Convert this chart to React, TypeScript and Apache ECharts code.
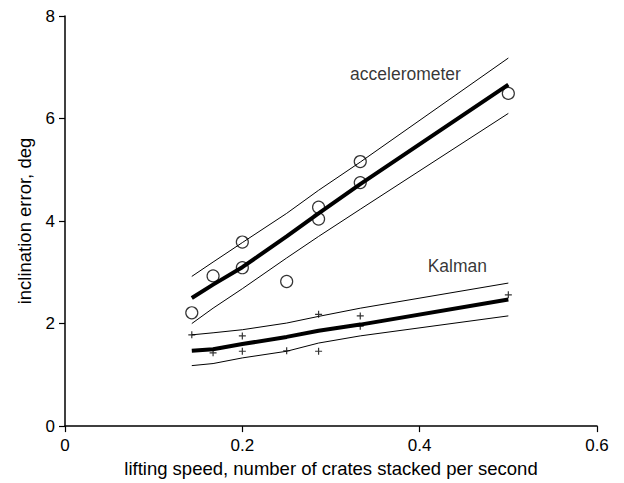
import React, { useEffect, useRef } from "react";
import * as echarts from "echarts";

// Measured lifting speeds (crates per second)
const accX = [0.143, 0.167, 0.2, 0.2, 0.25, 0.286, 0.286, 0.333, 0.333, 0.5];
const accY = [2.21, 2.93, 3.59, 3.09, 2.82, 4.27, 4.04, 5.16, 4.75, 6.49];

const kalX = [0.143, 0.167, 0.2, 0.2, 0.25, 0.286, 0.286, 0.333, 0.333, 0.5];
const kalY = [1.78, 1.43, 1.76, 1.46, 1.47, 2.18, 1.46, 2.15, 1.95, 2.56];

// Fit curves and bounds
const fitX = [0.143, 0.167, 0.2, 0.25, 0.286, 0.333, 0.5];
const accFit = [2.5, 2.76, 3.1, 3.7, 4.15, 4.72, 6.66];
const accUpper = [2.92, 3.2, 3.58, 4.15, 4.6, 5.15, 7.18];
const accLower = [2.0, 2.3, 2.68, 3.28, 3.7, 4.23, 6.1];
const kalFit = [1.47, 1.5, 1.6, 1.74, 1.86, 1.98, 2.47];
const kalUpper = [1.78, 1.82, 1.88, 2.01, 2.14, 2.3, 2.79];
const kalLower = [1.18, 1.22, 1.33, 1.46, 1.62, 1.76, 2.15];

const labels = [
  { name: "accelerometer", x: 0.384, y: 6.86 },
  { name: "Kalman", x: 0.4425, y: 3.12 },
];

const FONT = "Liberation Sans, Arial, Helvetica, sans-serif";

const zip = (xs: number[], ys: number[]) => xs.map((x, i) => [x, ys[i]]);

export default function App() {
  const ref = useRef<HTMLDivElement>(null);
  useEffect(() => {
    if (!ref.current) return;
    const chart = echarts.init(ref.current, null, { renderer: "svg" });
    const lineSeries = (ys: number[], w: number) => ({
      type: "line",
      data: zip(fitX, ys),
      showSymbol: false,
      symbol: "none",
      smooth: false,
      lineStyle: { color: "#000", width: w },
      z: 2,
    });
    chart.setOption({
      animation: false,
      backgroundColor: "#fff",
      grid: { left: 65, right: 27, top: 16, bottom: 49, containLabel: false },
      xAxis: {
        type: "value",
        min: 0,
        max: 0.6,
        interval: 0.2,
        name: "lifting speed, number of crates stacked per second",
        nameLocation: "middle",
        nameGap: 29,
        nameTextStyle: { fontFamily: FONT, fontSize: 18.5, color: "#000" },
        axisLine: { lineStyle: { color: "#000", width: 1.5 } },
        axisTick: { show: true, inside: false, length: 6, lineStyle: { color: "#000", width: 1.2 } },
        axisLabel: { fontFamily: FONT, fontSize: 17, color: "#000", margin: 11 },
        splitLine: { show: false },
      },
      yAxis: {
        type: "value",
        min: 0,
        max: 8,
        interval: 2,
        name: "inclination error, deg",
        nameLocation: "middle",
        nameGap: 31,
        nameTextStyle: { fontFamily: FONT, fontSize: 18.5, color: "#000" },
        axisLine: { show: true, onZero: false, lineStyle: { color: "#000", width: 1.5 } },
        axisTick: { show: true, inside: false, length: 6, lineStyle: { color: "#000", width: 1.2 } },
        axisLabel: { fontFamily: FONT, fontSize: 17, color: "#000", margin: 10 },
        splitLine: { show: false },
      },
      series: [
        lineSeries(accFit, 4),
        lineSeries(accUpper, 1),
        lineSeries(accLower, 1),
        lineSeries(kalFit, 4),
        lineSeries(kalUpper, 1),
        lineSeries(kalLower, 1),
        {
          type: "scatter",
          data: zip(accX, accY),
          symbol: "circle",
          symbolSize: 12,
          itemStyle: { color: "rgba(255,255,255,0)", borderColor: "#000", borderWidth: 1.2 },
          z: 3,
        },
        {
          type: "scatter",
          data: zip(kalX, kalY),
          symbol: "path://M0,5L10,5M5,0L5,10",
          symbolSize: 7,
          itemStyle: { color: "none", borderColor: "#000", borderWidth: 1.2 },
          z: 3,
        },
        {
          type: "scatter",
          data: labels.map((l) => ({ name: l.name, value: [l.x, l.y] })),
          symbolSize: 0,
          silent: true,
          label: {
            show: true,
            position: "inside",
            formatter: (p: any) => p.name,
            fontFamily: FONT,
            fontSize: 17.5,
            color: "#000",
          },
          z: 4,
        },
      ],
    });
    return () => chart.dispose();
  }, []);
  return (
    <div
      ref={ref}
      style={{ position: "fixed", left: 0, top: 0, width: 624, height: 483 }}
    />
  );
}
